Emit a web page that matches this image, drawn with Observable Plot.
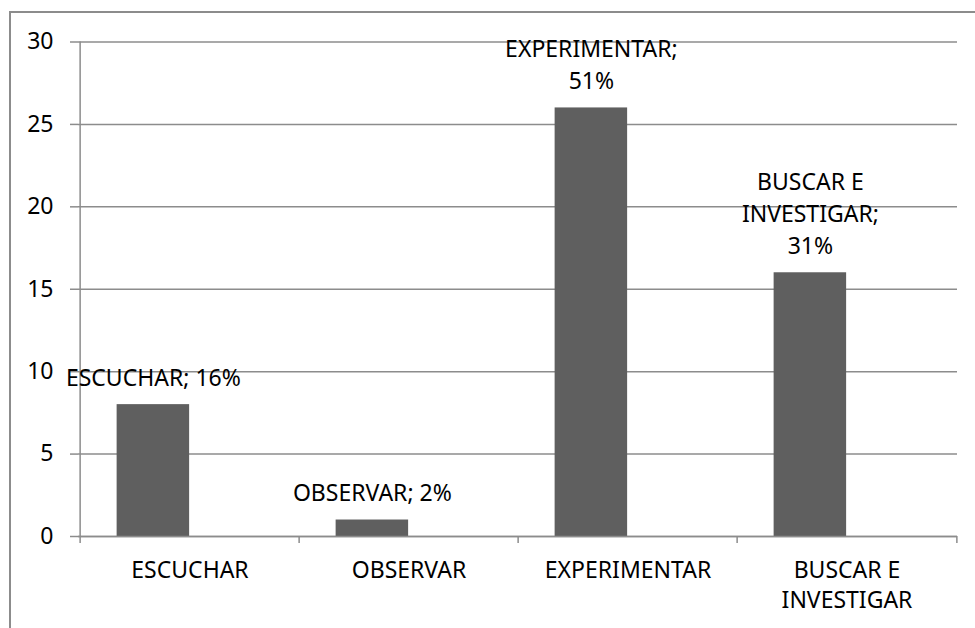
<!DOCTYPE html>
<html>
<head>
<meta charset="utf-8">
<script src="https://cdn.jsdelivr.net/npm/d3@7"></script>
<script src="https://cdn.jsdelivr.net/npm/@observablehq/plot@0.6"></script>
<style>
  html, body { margin: 0; padding: 0; background: #fff; }
  #wrap { position: relative; width: 975px; height: 628px; overflow: hidden; }
  #frame { position: absolute; left: 9px; top: 11px; width: 1200px; height: 900px;
           border-left: 2px solid #8c8c8c; border-top: 2px solid #8c8c8c; pointer-events: none; }
  svg { font-family: "Noto Sans", sans-serif; }
</style>
</head>
<body>
<div id="wrap"><div id="frame"></div></div>
<script>
const categories = ["ESCUCHAR", "OBSERVAR", "EXPERIMENTAR", "BUSCAR E INVESTIGAR"];
const values = [8, 1, 26, 16];
const dataLabels = ["ESCUCHAR; 16%", "OBSERVAR; 2%", "EXPERIMENTAR;\n51%", "BUSCAR E\nINVESTIGAR;\n31%"];
const xTickLabels = ["ESCUCHAR", "OBSERVAR", "EXPERIMENTAR", "BUSCAR E\nINVESTIGAR"];
const yTicks = [0, 5, 10, 15, 20, 25, 30];

const data = categories.map((c, i) => ({cat: c, val: values[i], label: dataLabels[i]}));

const W = 975, H = 628;
const mL = 78, mR = 18, mT = 41.5, mB = 92;
const band = (W - mL - mR) / categories.length;
const gray = "#8c8c8c";
const fs = 23;

const chart = Plot.plot({
  width: W,
  height: H,
  marginLeft: mL,
  marginRight: mR,
  marginTop: mT,
  marginBottom: mB,
  style: {fontFamily: "'Noto Sans', sans-serif", fontSize: fs + "px", color: "#000", background: "transparent"},
  x: {domain: categories, padding: 0, label: null},
  y: {domain: [0, 30], label: null},
  marks: [
    Plot.gridY(yTicks, {stroke: gray, strokeOpacity: 1, strokeWidth: 1.5}),
    Plot.axisY({ticks: yTicks, tickSize: 8, tickPadding: 17, stroke: gray, strokeWidth: 1.5, label: null, fontSize: fs}),
    Plot.barY(data, {x: "cat", y: "val", fill: "#5f5f5f", insetLeft: band / 6, insetRight: band / 2}),
    Plot.ruleY([0], {stroke: gray, strokeWidth: 1.5}),
    // y axis line
    Plot.ruleX([categories[0]], {dx: -band / 2, y1: 30, y2: 0, stroke: gray, strokeWidth: 1.5}),
    // category boundary ticks
    Plot.ruleX(categories, {dx: -band / 2, y1: 0, y2: 0, insetTop: 7, stroke: gray, strokeWidth: 1.5}),
    Plot.ruleX([categories[categories.length - 1]], {dx: band / 2, y1: 0, y2: 0, insetTop: 7, stroke: gray, strokeWidth: 1.5}),
    Plot.axisX({tickSize: 0, tickPadding: 20, tickFormat: (d) => xTickLabels[categories.indexOf(d)], label: null, fontSize: fs, lineHeight: 1.3}),
    Plot.text(data, {x: "cat", y: "val", text: "label", dx: -band / 6, dy: -19, lineAnchor: "bottom", fontSize: fs, lineHeight: 1.38, fill: "#000"})
  ]
});
document.getElementById("wrap").prepend(chart);
</script>
</body>
</html>
